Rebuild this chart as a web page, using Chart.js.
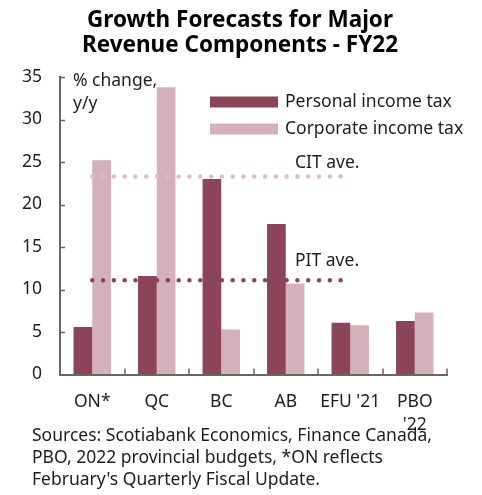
<!DOCTYPE html>
<html>
<head>
<meta charset="utf-8">
<script src="https://cdn.jsdelivr.net/npm/chart.js@4/dist/chart.umd.min.js"></script>
<style>
  html, body { margin: 0; padding: 0; background: #fff; }
</style>
</head>
<body>
<canvas id="growthChart" width="482" height="495"></canvas>
<script>
// categories and forecast values (% change, y/y)
const categories = ['ON*', 'QC', 'BC', 'AB', "EFU '21", ['PBO', "'22"]];
const personalIncomeTax = [5.6, 11.6, 23.0, 17.7, 6.1, 6.3];
const corporateIncomeTax = [25.2, 33.8, 5.3, 10.7, 5.8, 7.3];

// provincial averages, drawn across ON..EFU
const pitAverage = [11.1, 11.1, 11.1, 11.1, 11.1, null];
const citAverage = [23.3, 23.3, 23.3, 23.3, 23.3, null];

const seriesNames = ['Personal income tax', 'Corporate income tax'];
const averageNames = ['PIT ave.', 'CIT ave.'];
const yMin = 0, yMax = 35, yStep = 5;

const titleLines = ['Growth Forecasts for Major', 'Revenue Components - FY22'];
const sourceLines = [
  'Sources: Scotiabank Economics, Finance Canada,',
  'PBO, 2022 provincial budgets, *ON reflects',
  "February's Quarterly Fiscal Update."
];
const axisUnitLines = ['% change,', 'y/y'];

const darkRed = '#8c4458';
const lightPink = '#d4b1ba';
const textColor = '#1e1e1e';
const axisColor = '#666666';
const bodyFont = "17.5px 'Noto Sans', sans-serif";

Chart.defaults.font.family = "'Noto Sans', sans-serif";
Chart.defaults.color = textColor;

// title, axis line + inner ticks, in-plot legend and text notes
const decorations = {
  id: 'decorations',
  afterDraw(chart) {
    const ctx = chart.ctx;
    const area = chart.chartArea;
    const x = chart.scales.x;
    const y = chart.scales.y;
    ctx.save();
    // the dotted average lines can leave a dash pattern on the context
    ctx.setLineDash([]);
    ctx.lineCap = 'butt';

    // title
    ctx.fillStyle = '#000';
    ctx.font = "bold 22.5px 'Noto Sans', sans-serif";
    ctx.textAlign = 'center';
    ctx.textBaseline = 'middle';
    titleLines.forEach((t, i) => ctx.fillText(t, 240, 21 + i * 25));

    // y axis line with inner ticks, x axis ticks between categories
    ctx.strokeStyle = axisColor;
    ctx.lineWidth = 2;
    ctx.beginPath();
    ctx.moveTo(area.left, y.getPixelForValue(yMax));
    ctx.lineTo(area.left, area.bottom + 1);
    ctx.stroke();
    ctx.lineWidth = 1.5;
    ctx.beginPath();
    for (let v = yMin + yStep; v <= yMax; v += yStep) {
      const py = Math.round(y.getPixelForValue(v)) + 0.5;
      ctx.moveTo(area.left, py);
      ctx.lineTo(area.left + 5, py);
    }
    for (let i = 0; i < categories.length; i++) {
      const px = i < categories.length - 1
        ? Math.round((x.getPixelForValue(i) + x.getPixelForValue(i + 1)) / 2)
        : area.right;
      ctx.moveTo(px, area.bottom);
      ctx.lineTo(px, area.bottom - 6);
    }
    ctx.stroke();

    ctx.font = bodyFont;
    ctx.textAlign = 'left';

    // legend
    [darkRed, lightPink].forEach((c, i) => {
      const cy = 102 + i * 27;
      ctx.fillStyle = c;
      ctx.fillRect(210, cy - 5.5, 68, 11);
      ctx.fillStyle = textColor;
      ctx.fillText(seriesNames[i], 285, cy);
    });

    // unit label
    axisUnitLines.forEach((t, i) => ctx.fillText(t, 73, 81 + i * 23));

    // average labels
    ctx.fillText(averageNames[1], 295, y.getPixelForValue(citAverage[0]) - 13);
    ctx.fillText(averageNames[0], 295, y.getPixelForValue(pitAverage[0]) - 19);

    // sources note
    sourceLines.forEach((t, i) => ctx.fillText(t, 32, 436 + i * 22));
    ctx.restore();
  }
};

new Chart(document.getElementById('growthChart').getContext('2d'), {
  type: 'bar',
  data: {
    labels: categories,
    datasets: [
      {
        type: 'line',
        label: averageNames[1],
        data: citAverage,
        borderColor: '#ddbcc5',
        borderWidth: 4.5,
        borderDash: [0, 10.8],
        borderCapStyle: 'round',
        pointRadius: 0,
        fill: false,
        order: 0
      },
      {
        type: 'line',
        label: averageNames[0],
        data: pitAverage,
        borderColor: darkRed,
        borderWidth: 4.5,
        borderDash: [0, 10.8],
        borderCapStyle: 'round',
        pointRadius: 0,
        fill: false,
        order: 0
      },
      {
        label: seriesNames[0],
        data: personalIncomeTax,
        backgroundColor: darkRed,
        categoryPercentage: 0.58,
        barPercentage: 1,
        order: 1
      },
      {
        label: seriesNames[1],
        data: corporateIncomeTax,
        backgroundColor: lightPink,
        categoryPercentage: 0.58,
        barPercentage: 1,
        order: 1
      }
    ]
  },
  options: {
    responsive: false,
    animation: false,
    layout: { padding: { left: 0, right: 35, top: 77, bottom: 43 } },
    plugins: {
      legend: { display: false },
      tooltip: { enabled: false },
      title: { display: false }
    },
    scales: {
      x: {
        grid: { drawOnChartArea: false, drawTicks: false },
        border: { display: true, color: axisColor, width: 2 },
        ticks: { font: { size: 17.5, lineHeight: 1.3 }, padding: 16, maxRotation: 0, autoSkip: false }
      },
      y: {
        min: yMin,
        max: yMax,
        grid: { drawOnChartArea: false, drawTicks: false },
        border: { display: true, color: axisColor, width: 2 },
        ticks: { stepSize: yStep, font: { size: 17.5 }, padding: 18 },
        afterFit(scale) { scale.width = 60; }
      }
    }
  },
  plugins: [decorations]
});
</script>
</body>
</html>
